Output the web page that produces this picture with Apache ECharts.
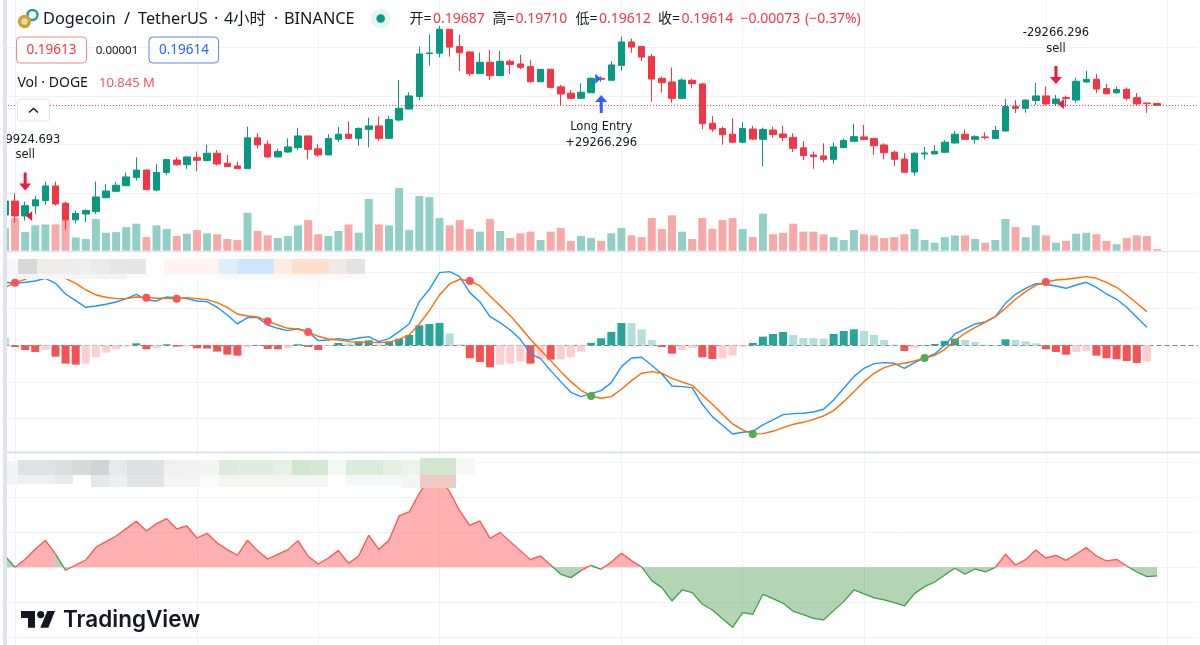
<!DOCTYPE html>
<html>
<head>
<meta charset="utf-8">
<style>html,body{margin:0;padding:0;background:#fff}#chart{width:1200px;height:645px}</style>
<script src="https://cdn.jsdelivr.net/npm/echarts@6/dist/echarts.min.js"></script>
</head>
<body>
<div id="chart"></div>
<script>
// DOGE/USDT 4h candles
const opens = [.1512,.1569,.1508,.1549,.1571,.1631,.1560,.1492,.1516,.1526,.1583,.1609,.1632,.1666,.1696,.1614,.1686,.1737,.1718,.1748,.1735,.1765,.1724,.1713,.1702,.1828,.1802,.1750,.1770,.1788,.1836,.1783,.1758,.1822,.1843,.1826,.1863,.1877,.1826,.1901,.1946,.1997,.2173,.2175,.2273,.2202,.2180,.2091,.2138,.2083,.2142,.2131,.2120,.2058,.2109,.2037,.2011,.1990,.2013,.2072,.2064,.2125,.2221,.2202,.2161,.2072,.2057,.1990,.2064,.2049,.1888,.1866,.1843,.1810,.1864,.1822,.1860,.1844,.1830,.1787,.1758,.1754,.1740,.1788,.1814,.1832,.1825,.1799,.1769,.1741,.1688,.1762,.1762,.1769,.1807,.1843,.1822,.1832,.1825,.1856,.1956,.1949,.1981,.2000,.1968,.1993,.1983,.2057,.2068,.2030,.2013,.2027,.1993,.1971,.19687];
const closes = [.1569,.1508,.1550,.1574,.1631,.1557,.1492,.1518,.1530,.1586,.1610,.1634,.1668,.1696,.1616,.1686,.1739,.1718,.1750,.1736,.1765,.1721,.1710,.1702,.1828,.1799,.1750,.1772,.1791,.1836,.1781,.1758,.1825,.1843,.1826,.1866,.1877,.1826,.1903,.1949,.2000,.2172,.2176,.2273,.2200,.2177,.2091,.2138,.2083,.2142,.2129,.2117,.2058,.2109,.2035,.2008,.1990,.2015,.2072,.2068,.2127,.2221,.2200,.2159,.2069,.2054,.1990,.2065,.2050,.1886,.1864,.1841,.1810,.1866,.1823,.1862,.1841,.1830,.1785,.1755,.1751,.1740,.1791,.1817,.1833,.1822,.1796,.1767,.1740,.1687,.1765,.1766,.1772,.1810,.1843,.1822,.1833,.1829,.1858,.1956,.1949,.1983,.2000,.1967,.1987,.1989,.2060,.2068,.2028,.2009,.2026,.1990,.1967,.1968,.19614];
const lows = [.1492,.1481,.1489,.1516,.1553,.1550,.1451,.1478,.1482,.1516,.1580,.1608,.1631,.1653,.1613,.1609,.1676,.1714,.1701,.1691,.1732,.1714,.1710,.1701,.1701,.1784,.1747,.1748,.1767,.1778,.1740,.1751,.1757,.1811,.1825,.1795,.1789,.1815,.1826,.1895,.1945,.1983,.2124,.2158,.2161,.2102,.2082,.2091,.2065,.2083,.2090,.2110,.2054,.2058,.2031,.1960,.1986,.1989,.2013,.2058,.2063,.2103,.2177,.2143,.1976,.2013,.1972,.1987,.2031,.1863,.1852,.1800,.1808,.1806,.1819,.1710,.1829,.1815,.1770,.1737,.1702,.1728,.1722,.1785,.1811,.1818,.1758,.1740,.1713,.1686,.1673,.1739,.1761,.1766,.1804,.1821,.1804,.1821,.1823,.1855,.1930,.1931,.1963,.1960,.1959,.1956,.1972,.2054,.2012,.2005,.2008,.1981,.1960,.1930,.19612];
const highs = [.1587,.1601,.1567,.1590,.1649,.1649,.1567,.1530,.1535,.1649,.1639,.1649,.1686,.1748,.1699,.1721,.1740,.1748,.1750,.1772,.1799,.1778,.1758,.1731,.1874,.1847,.1817,.1784,.1826,.1869,.1836,.1802,.1843,.1873,.1896,.1871,.1911,.1915,.1918,.2065,.2015,.2202,.2252,.2287,.2273,.2250,.2184,.2177,.2188,.2184,.2150,.2168,.2147,.2109,.2109,.2045,.2024,.2052,.2076,.2080,.2143,.2243,.2236,.2205,.2172,.2079,.2116,.2072,.2071,.2053,.1918,.1874,.1908,.1892,.1877,.1870,.1874,.1877,.1847,.1815,.1772,.1806,.1810,.1825,.1885,.1881,.1828,.1806,.1776,.1765,.1769,.1791,.1798,.1818,.1856,.1863,.1839,.1851,.1877,.1987,.1983,.1986,.2053,.2038,.2004,.2001,.2075,.2102,.2090,.2049,.2038,.2034,.2012,.1971,.19710];
// Volume per bar, millions of DOGE
const volumes = [143,209,119,162,168,168,200,85,75,203,115,119,151,173,87,162,139,94,109,132,111,105,75,68,243,126,98,81,94,162,196,105,94,126,168,115,331,168,162,401,132,350,343,209,162,196,139,122,203,126,81,111,122,68,122,145,62,94,81,62,111,145,98,87,209,139,226,122,75,209,139,196,209,139,87,237,105,115,173,122,122,105,87,68,132,105,98,81,87,105,139,68,51,87,98,98,75,51,68,203,151,87,162,98,51,62,109,115,105,62,41,81,98,94,10.845];
// MACD, signal and histogram, in units of 0.00001
const macdLine = [378,372,378,386,402,372,308,268,228,236,246,260,280,306,272,266,290,286,280,266,262,228,182,128,166,166,122,102,88,100,82,28,32,40,32,44,52,22,40,82,128,262,336,436,442,412,316,260,172,136,92,36,-50,-80,-152,-218,-282,-308,-290,-272,-224,-128,-76,-72,-120,-172,-244,-248,-254,-354,-428,-480,-532,-522,-516,-478,-448,-416,-410,-408,-400,-384,-328,-258,-188,-138,-110,-104,-108,-138,-104,-76,-52,2,68,98,128,140,172,252,306,342,370,366,356,342,362,378,348,308,276,228,168,108];
const signalLine = [346,376,396,428,432,428,402,372,332,302,288,280,280,290,286,282,282,280,286,280,274,256,228,188,176,170,144,122,102,96,80,54,38,32,22,18,18,16,18,36,62,128,208,302,368,396,386,356,296,238,178,108,36,-28,-92,-158,-218,-270,-304,-318,-308,-264,-212,-168,-158,-168,-198,-220,-240,-298,-354,-414,-472,-508,-532,-530,-516,-494,-474,-462,-444,-424,-392,-338,-278,-218,-168,-134,-116,-108,-94,-76,-60,-24,28,72,108,138,172,222,276,322,360,380,392,396,404,412,402,378,348,302,252,202];
const histogram = [46,-10,-28,-40,-28,-68,-110,-116,-110,-72,-44,-24,-8,12,-24,-18,6,-8,-6,-18,-19,-38,-56,-62,-10,2,-22,-24,-18,6,-10,-28,-4,14,12,24,30,6,24,40,62,120,128,134,72,6,-78,-100,-132,-116,-110,-98,-110,-84,-86,-84,-72,-38,14,42,80,134,134,96,32,-10,-50,-28,-16,-72,-82,-78,-62,-10,14,52,68,80,62,44,44,40,68,86,96,86,62,32,4,-34,-18,2,8,26,40,32,20,4,2,36,32,24,12,-24,-40,-56,-40,-34,-62,-78,-84,-94,-106,-98];
const crossDownBars = [1,14,17,26,30,46,103];
const crossUpBars = [58,74,91];
// Lower oscillator, same units
const oscillator = [68,0,48,108,162,80,-18,14,44,120,154,188,232,276,218,262,292,230,248,176,204,146,106,72,162,100,50,78,106,160,66,20,56,100,24,68,192,108,162,308,332,444,534,544,454,338,252,278,174,208,154,100,46,68,14,-42,-62,-20,12,-12,32,84,40,2,-80,-122,-202,-136,-152,-220,-256,-308,-360,-272,-282,-162,-188,-216,-264,-284,-306,-316,-260,-206,-136,-160,-184,-196,-212,-232,-158,-116,-88,-46,-6,-42,-10,-28,0,78,14,46,104,56,72,42,80,118,68,38,48,8,-28,-56,-52];
// Trade markers: [bar, price, note]
const sellArrows = [[2,.16493,'sell'],[104,.20857,'-29266.296\nsell']];
const buyArrows = [[59,.19669,'Long Entry\n+29266.296']];
const verticalGridBars = [1,19,31,43,61,73,85,103,115];
const barIndex = Array.from({length:119},(_,i)=>i);

const UP='#089981', DOWN='#f23645', GRID='#f0f2f7', EDGE='#e0e3eb', INK='#131722';
const UI='"Noto Sans","Noto Sans CJK SC",sans-serif';
const MARK='"DejaVu Sans",sans-serif';
const gridBox = (top,height)=>({left:4.95,width:1192.5,top,height});
const xAxisFor = (gridIndex,vertical,extra)=>Object.assign({type:'category',gridIndex,data:barIndex,boundaryGap:false,
  axisLabel:{show:false},axisTick:{show:false},axisLine:{show:false},
  splitLine:{show:vertical,interval:(i)=>verticalGridBars.includes(i),lineStyle:{color:GRID,width:1}}},extra||{});
const yAxisFor = (gridIndex,min,max,interval,lines,edges)=>({type:'value',gridIndex,min,max,interval,
  axisLabel:{show:false},axisTick:{show:false},axisLine:{show:false},
  splitLine:{show:lines,showMinLine:!!edges,showMaxLine:false,lineStyle:{color:GRID,width:1}}});

// Histogram shade follows the direction of change on each side of zero
const histColor = (v,i)=>{
  const prev = i>0 ? histogram[i-1] : Infinity;
  if (v>=0) return v>prev ? '#26a69a' : '#b2dfdb';
  return v<prev ? '#f55353' : '#ffcdd2';
};

// The oscillator changes colour per segment, decided by the sign of the segment's end value
const oscRuns = [];
for (let i=1;i<oscillator.length;i++){
  const pos = oscillator[i]>0, last = oscRuns[oscRuns.length-1];
  if (last && last.pos===pos) last.data.push([i,oscillator[i]]);
  else oscRuns.push({pos,data:[[i-1,oscillator[i-1]],[i,oscillator[i]]]});
}
const oscSeries = oscRuns.map(r=>({type:'line',xAxisIndex:3,yAxisIndex:3,data:r.data,showSymbol:false,silent:true,z:3,
  lineStyle:{color:r.pos?'#ff5252':'#43a047',width:1.3},
  itemStyle:{color:r.pos?'#ff5252':'#43a047'},
  areaStyle:{color:r.pos?'#ff5252':'#388e3c',opacity:r.pos?0.45:0.38}}));

const ARROW_DOWN='path://M4.5 0H7.5V11H12L6 18L0 11H4.5Z';
const ARROW_UP='path://M6 0L12 7H7.5V18H4.5V7H0Z';
const TRI_LEFT='path://M6 0V10L0 5Z';
const TRI_RIGHT='path://M0 0V10L6 5Z';
const markLabelStyle={show:true,color:INK,fontFamily:MARK,fontSize:11.5,lineHeight:16,formatter:p=>p.data[2]||''};

const series = [
  {type:'bar',xAxisIndex:1,yAxisIndex:1,barWidth:8,silent:true,z:1,
   data:volumes.map((v,i)=>({value:v,itemStyle:{color:closes[i]>=opens[i]?'#92d0c7':'#f7a9a7'}}))},
  {type:'candlestick',xAxisIndex:0,yAxisIndex:0,barWidth:7,silent:true,z:2,
   data:opens.map((o,i)=>[o,closes[i],lows[i],highs[i]]),
   itemStyle:{color:UP,color0:DOWN,borderColor:UP,borderColor0:DOWN,borderWidth:1},
   markLine:{silent:true,symbol:'none',animation:false,precision:5,label:{show:false},
     lineStyle:{color:DOWN,type:[1,2],width:1},data:[{yAxis:closes[closes.length-1]}]}},
  {type:'scatter',xAxisIndex:0,yAxisIndex:0,silent:true,z:5,symbol:ARROW_DOWN,symbolSize:[12,18],
   itemStyle:{color:'#f7143c',opacity:1},data:sellArrows,
   label:Object.assign({position:'top',distance:9},markLabelStyle)},
  {type:'scatter',xAxisIndex:0,yAxisIndex:0,silent:true,z:5,symbol:ARROW_UP,symbolSize:[12,18],
   itemStyle:{color:'#2962ff',opacity:1},data:buyArrows,
   label:Object.assign({position:'bottom',distance:6},markLabelStyle)},
  {type:'scatter',xAxisIndex:0,yAxisIndex:0,silent:true,z:5,symbol:TRI_LEFT,symbolSize:[6,10],symbolOffset:[4,0],
   itemStyle:{color:'#f7143c',opacity:1},data:[[2,.15079]]},
  {type:'scatter',xAxisIndex:0,yAxisIndex:0,silent:true,z:5,symbol:TRI_LEFT,symbolSize:[6,10],symbolOffset:[5,0],
   itemStyle:{color:'#f7143c',opacity:1},data:[[104,.19669]]},
  {type:'scatter',xAxisIndex:0,yAxisIndex:0,silent:true,z:5,symbol:TRI_RIGHT,symbolSize:[6,10],symbolOffset:[-3,0],
   itemStyle:{color:'#2962ff',opacity:1},data:[[59,.20706]]},
  {type:'bar',xAxisIndex:2,yAxisIndex:2,barWidth:8,silent:true,z:2,
   data:histogram.map((v,i)=>({value:v,itemStyle:{color:histColor(v,i)}}))},
  {type:'line',xAxisIndex:2,yAxisIndex:2,data:macdLine,showSymbol:false,silent:true,z:3,lineStyle:{color:'#2196f3',width:1.4}},
  {type:'line',xAxisIndex:2,yAxisIndex:2,data:signalLine,showSymbol:false,silent:true,z:4,lineStyle:{color:'#ff6d00',width:1.4}},
  {type:'scatter',xAxisIndex:2,yAxisIndex:2,silent:true,z:5,symbolSize:8,itemStyle:{color:'#ff5252',opacity:1},
   data:crossDownBars.map(i=>[i,signalLine[i]])},
  {type:'scatter',xAxisIndex:2,yAxisIndex:2,silent:true,z:5,symbolSize:8,itemStyle:{color:'#4caf50',opacity:1},
   data:crossUpBars.map(i=>[i,signalLine[i]])}
].concat(oscSeries);

// Chart furniture
const G=[];
const text=(t,x,y,font,fill,align)=>G.push({type:'text',z:100,silent:true,style:{text:t,x,y,font,fill,align:align||'left',verticalAlign:'middle'}});
const rect=(x,y,w,h,fill,r,stroke)=>G.push({type:'rect',z:100,silent:true,shape:{x,y,width:w,height:h,r:r||0},style:{fill:fill||'none',stroke:stroke||'none',lineWidth:stroke?1:0}});

rect(7,251,1193,1,EDGE);
rect(7,451.5,1193,2,'#dfe3f0');

// Pixelated panels over the indicator legends
rect(7,254,358,25,'#ffffff',10);
[[4,259,14,16,'#f5f6f8'],[18,259,19,15,'#d8d8d8'],[37,259,36,15,'#efebe9'],[73,259,18,15,'#eeeeee'],[91,259,18,15,'#eaebec'],[109,259,18,15,'#e6e7e9'],[127,259,19,15,'#e5e6e8'],[146,259,18,15,'#fdfdfd'],[164,259,55,15,'#fff2f0'],[219,259,18,15,'#deeefd'],[237,259,37,15,'#cde6fc'],[274,259,18,15,'#ffece3'],[292,259,37,15,'#fedfcb'],[329,259,18,15,'#f0eae6'],[347,259,18,15,'#e2e3e4'],
 [18,274,55,5,'#f8f6f5'],[73,274,54,5,'#f3f4f6'],[127,274,92,5,'#fdfdfd'],[219,274,55,5,'#f8fbff'],[274,274,91,5,'#fff8f4']].forEach(b=>rect(b[0],b[1],b[2],b[3],b[4]));
rect(2,459,473,29,'#ffffff',10);
[[2,461,16,24,'#f4f5f7'],[18,460,37,15,'#e0e1e3'],[55,460,18,15,'#dcdddf'],[73,460,18,15,'#d8d9db'],[91,460,18,15,'#d2d3d5'],[109,460,18,15,'#e8e9eb'],[127,460,18,15,'#dedfe1'],[145,460,19,15,'#dfe0e2'],[164,460,18,15,'#f0f0f1'],[182,460,18,15,'#f2f2f3'],[200,460,19,15,'#f1f7f1'],[219,460,18,15,'#dcebdc'],[237,460,37,15,'#e0eee0'],[274,460,18,15,'#e6f0e6'],[292,460,18,15,'#cfe6cf'],[310,460,18,15,'#d5e8d5'],[328,460,18,15,'#f2f8f2'],[346,460,37,15,'#dcecdc'],[383,460,18,15,'#e4f0e4'],[401,460,19,15,'#eaf4ea'],[420,458,36,17,'#d2e6d2'],[456,458,19,17,'#f4f9f4'],
 [18,475,37,9,'#eeeff0'],[55,475,18,9,'#e9eaeb'],[91,475,18,12,'#e6e7e8'],[109,475,18,12,'#eeeff0'],[127,475,37,12,'#e3e4e6'],[164,475,36,12,'#f4f4f5'],[200,475,19,12,'#fbfbfb'],[219,475,109,12,'#f1f6f1'],[346,475,55,10,'#f5f9f5'],[401,475,19,13,'#f2f7f2'],[420,475,36,13,'#f0cbc6']].forEach(b=>rect(b[0],b[1],b[2],b[3],b[4]));

text('9924.693',5.5,140,'11.5px '+MARK,INK);
rect(0,0,3,645,'#ffffff');
rect(3,0,4,645,'#e0e3ee');

// Symbol logo
G.push({type:'circle',z:100,silent:true,shape:{cx:32.5,cy:15,r:5},style:{fill:'none',stroke:'#1f9e93',lineWidth:2.4}});
G.push({type:'circle',z:101,silent:true,shape:{cx:24.5,cy:21.5,r:6.7},style:{fill:'#c9a43d'}});
G.push({type:'circle',z:102,silent:true,shape:{cx:24.5,cy:21.5,r:3.2},style:{fill:'#ecd9a0'}});

// Title row
const TITLE='16.3px '+UI;
[['Dogecoin',43],['/',124],['TetherUS',138],['·',214],['4小时',224],['·',274],['BINANCE',284]].forEach(t=>text(t[0],t[1],19,TITLE,INK));
G.push({type:'circle',z:100,silent:true,shape:{cx:380.7,cy:18.5,r:10},style:{fill:'#e6f4f1'}});
G.push({type:'circle',z:101,silent:true,shape:{cx:380.7,cy:18.5,r:4.3},style:{fill:UP}});
const OHLC='14px '+UI;
[['开=',409.5,INK],['0.19687',433,DOWN],['高=',492.5,INK],['0.19710',515.5,DOWN],['低=',575.5,INK],['0.19612',599,DOWN],['收=',658,INK],['0.19614',681.5,DOWN],['−0.00073',740.5,DOWN],['(−0.37%)',805,DOWN]].forEach(t=>text(t[0],t[1],19.5,OHLC,t[2]));

// Bid / spread / ask
rect(16.5,37,70,26,'#ffffff',4,'#f7828c');
text('0.19613',51.5,50.5,'13.5px '+UI,DOWN,'center');
text('0.00001',117,50.5,'11.5px '+UI,INK,'center');
rect(149,37,69.5,26,'#ffffff',4,'#5b85f5');
text('0.19614',184,50.5,'13.5px '+UI,'#2962ff','center');

text('Vol · DOGE',17.5,83,'14px '+UI,INK);
text('10.845 M',99,83,'13px '+UI,'#f7525f');

// Collapse button
rect(17.5,99,32,22,'#ffffff',3,EDGE);
G.push({type:'polyline',z:101,silent:true,shape:{points:[[29,112.5],[33.5,108.5],[38,112.5]]},style:{fill:'none',stroke:INK,lineWidth:1.5}});

// Watermark
G.push({type:'polygon',z:100,silent:true,shape:{points:[[21,611],[35,611],[35,627.7],[28,627.7],[28,618],[21,618]]},style:{fill:INK}});
G.push({type:'circle',z:100,silent:true,shape:{cx:40.7,cy:614.6,r:3.6},style:{fill:INK}});
G.push({type:'polygon',z:100,silent:true,shape:{points:[[47.3,611],[55,611],[48.3,627.7],[40.3,627.7]]},style:{fill:INK}});
text('TradingView',63,620,'600 22.5px Inter,sans-serif',INK);

const chart = echarts.init(document.getElementById('chart'),null,{renderer:'canvas'});
chart.setOption({
  animation:false,
  backgroundColor:'#ffffff',
  // Price, volume, MACD, oscillator, plus a full-height grid carrying the shared vertical lines
  grid:[gridBox(22.7,219.6),gridBox(0,250.7),gridBox(235.3,220),gridBox(427.3,210),gridBox(0,645)],
  xAxis:[
    xAxisFor(0,false),
    xAxisFor(1,false),
    xAxisFor(2,false,{axisLine:{show:true,onZero:true,lineStyle:{color:'#787b86',type:[4,4],width:1}}}),
    xAxisFor(3,false),
    xAxisFor(4,true)
  ],
  yAxis:[
    yAxisFor(0,.14,.23,.02,true),
    yAxisFor(1,0,1604.5,1604.5,false),
    yAxisFor(2,-660,660,220,true),
    yAxisFor(3,-420,840,210,true,true),
    yAxisFor(4,0,1,1,false)
  ],
  series,
  graphic:{elements:G}
});
</script>
</body>
</html>
